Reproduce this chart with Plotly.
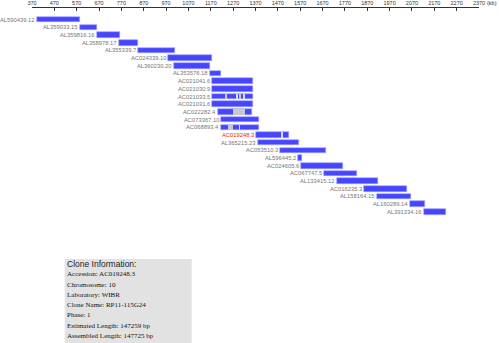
import plotly.graph_objects as go

# clone tiling path along the chromosome (kb)
clones = ["AL590439.12", "AL359033.15", "AL359816.16", "AL358978.17", "AL355339.7",
          "AC024339.10", "AL360230.20", "AL353576.18", "AC021041.6", "AC021030.9",
          "AC021033.5", "AC021031.6", "AC022282.4", "AC073367.10", "AC068893.4",
          "AC019248.3", "AL365215.23", "AC053510.3", "AL596445.2", "AC024605.6",
          "AC067747.5", "AL133415.12", "AC016235.3", "AL158164.15", "AL160289.14",
          "AL391334.16"]
starts = [392, 583, 660, 759, 844, 980, 1004, 1165, 1175, 1175,
          1175, 1175, 1201, 1216, 1216, 1371, 1380, 1481, 1562, 1573,
          1675, 1736, 1857, 1912, 2063, 2123]
ends = [583, 663, 762, 846, 1008, 1175, 1168, 1217, 1359, 1359,
        1359, 1359, 1356, 1386, 1386, 1520, 1566, 1686, 1577, 1760,
        1824, 1917, 2048, 2066, 2127, 2224]

# unsequenced (gray) regions inside clones
gray_clone = ["AC021033.5", "AC021033.5", "AC022282.4", "AC068893.4"]
gray_start = [1232, 1295, 1269, 1247]
gray_end = [1242, 1305, 1325, 1271]

# small breaks between sequence pieces
gap_clone = ["AC021033.5", "AC021033.5", "AC068893.4", "AC019248.3"]
gap_start = [1286, 1316, 1297, 1486]
gap_end = [1289, 1319, 1300, 1491]

highlight = "AC019248.3"
tick_vals = [370, 470, 570, 670, 770, 870, 970, 1070, 1170, 1270, 1370,
             1470, 1570, 1670, 1770, 1870, 1970, 2070, 2170, 2270, 2370]

info_title = "Clone Information:"
info_lines = ["Accession: AC019248.3", "Chromosome: 10", "Laboratory: WIBR",
              "Clone Name: RP11-115G24", "Phase: 1",
              "Estimated Length: 147259 bp", "Assembled Length: 147725 bp"]

W, H = 499, 343
ML, MR, MT, MB = 32.3, 19.7, 8.3, 0


def px_x(px):
    return (px - ML) / (W - ML - MR)


def px_y(py):
    return (H - MB - py) / (H - MT - MB)


fig = go.Figure()

fig.add_trace(go.Bar(
    orientation="h", y=clones, base=starts,
    x=[e - s for s, e in zip(starts, ends)],
    width=0.72, marker=dict(color="#4646ff", line=dict(color="#a0a0ff", width=0.6)),
    hoverinfo="skip", showlegend=False,
))
fig.add_trace(go.Bar(
    orientation="h", y=gray_clone, base=gray_start,
    x=[e - s for s, e in zip(gray_start, gray_end)],
    width=0.72, marker=dict(color="#c8c8c8", line=dict(width=0)),
    hoverinfo="skip", showlegend=False,
))
fig.add_trace(go.Bar(
    orientation="h", y=gap_clone, base=gap_start,
    x=[e - s for s, e in zip(gap_start, gap_end)],
    width=0.72, marker=dict(color="#d8d8ff", line=dict(width=0)),
    hoverinfo="skip", showlegend=False,
))

annotations = []
for c, s in zip(clones, starts):
    annotations.append(dict(
        x=s, y=c, xref="x", yref="y", text=c, showarrow=False,
        xanchor="right", xshift=-2, borderpad=0, borderwidth=0,
        font=dict(size=5.8, color="#ee2222" if c == highlight else "#777777",
                  family="Liberation Sans, Arial"),
    ))

annotations.append(dict(
    x=px_x(487), y=px_y(3), xref="paper", yref="paper", text="(kb)",
    showarrow=False, xanchor="left", yanchor="middle", borderpad=0, borderwidth=0,
    font=dict(size=5.5, color="#333333", family="Liberation Sans, Arial"),
))

annotations.append(dict(
    x=px_x(67), y=px_y(264), xref="paper", yref="paper", text=info_title,
    showarrow=False, xanchor="left", yanchor="middle", borderpad=0, borderwidth=0,
    font=dict(size=8.5, color="#222222", family="Liberation Sans, Arial"),
))
line_y = [274.5, 284.7, 295, 305.2, 315.5, 325.8, 336.2]
for t, py in zip(info_lines, line_y):
    annotations.append(dict(
        x=px_x(67), y=px_y(py), xref="paper", yref="paper", text=t,
        showarrow=False, xanchor="left", yanchor="middle", borderpad=0, borderwidth=0,
        font=dict(size=7, color="#111111", family="Liberation Serif, Times New Roman"),
    ))

fig.update_layout(
    width=W, height=H,
    margin=dict(l=ML, r=MR, t=MT, b=MB, pad=0),
    paper_bgcolor="white", plot_bgcolor="white",
    barmode="overlay", bargap=0,
    showlegend=False,
    annotations=annotations,
    shapes=[dict(type="rect", xref="paper", yref="paper",
                 x0=px_x(65), x1=px_x(192), y0=px_y(360), y1=px_y(259),
                 fillcolor="#e2e2e2", line=dict(width=0), layer="below")],
    xaxis=dict(
        side="top", range=[370, 2370], tickvals=tick_vals,
        ticks="inside", ticklen=3, tickwidth=1, tickcolor="#333333",
        showline=True, linecolor="#333333", linewidth=1,
        showgrid=False, zeroline=False,
        tickfont=dict(size=5.5, color="#333333", family="Liberation Sans, Arial"),
    ),
    yaxis=dict(
        type="category", categoryarray=clones, range=[42.06, -1.52],
        visible=False, showgrid=False, zeroline=False,
    ),
)

fig.write_html("out.html", config={"displayModeBar": False},
               post_script="document.body.style.margin='0';")
